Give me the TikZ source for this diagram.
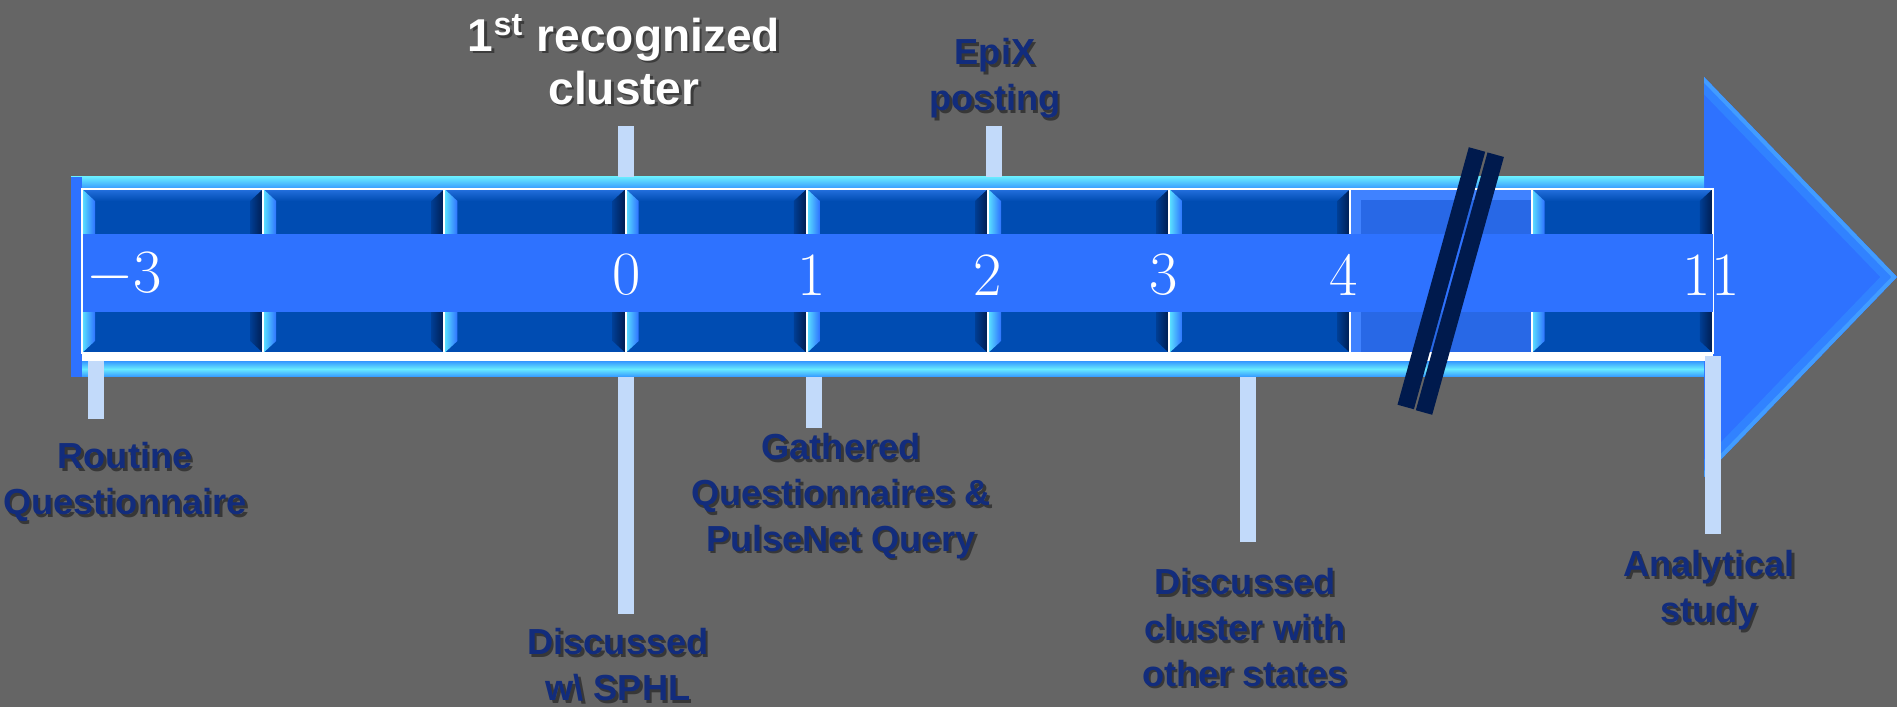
\documentclass[tikz,border=0pt]{standalone}
\usepackage{fontspec}
\newfontfamily\notefont{Liberation Sans}
\usetikzlibrary{calc}

\definecolor{slidegray}{RGB}{101,101,101}
\definecolor{bandblue}{RGB}{46,114,255}
\definecolor{cellblue}{RGB}{0,76,178}
\definecolor{celltop}{RGB}{36,112,222}
\definecolor{celldark}{RGB}{0,28,78}
\definecolor{cellcyan}{RGB}{92,228,255}
\definecolor{rimcyan}{RGB}{104,234,255}
\definecolor{rimblue}{RGB}{52,150,255}
\definecolor{gapblue}{RGB}{40,104,230}
\definecolor{gaprim}{RGB}{64,130,255}
\definecolor{tickblue}{RGB}{194,218,250}
\definecolor{slashnavy}{RGB}{0,26,77}
\definecolor{notenavy}{RGB}{18,44,124}

% label with a soft drop shadow behind it
\newcommand\timenote[5][note]{%
  \node[#1shade] at (#3+2.5,#4+2.5) {#5};
  \node[#1] (#2) at (#3,#4) {#5};}

\begin{document}
\begin{tikzpicture}[x=0.01cm, y=-0.01cm,
  note/.style={anchor=north, align=center, inner sep=0pt, text=notenavy,
    font=\notefont\bfseries\fontsize{10.3}{13}\selectfont},
  noteshade/.style={note, text=black, opacity=0.45},
  title/.style={note, text=white, font=\notefont\bfseries\fontsize{13.1}{15.1}\selectfont},
  titleshade/.style={title, text=black, opacity=0.4},
  num/.style={inner sep=0pt, text=white, font=\fontsize{17.5}{17.5}\selectfont},
  tick/.style={fill=tickblue},
  slash/.style={draw=slashnavy, line width=0.17cm}
]
% slide background
\fill[slidegray] (0,0) rectangle (1897,707);
\useasboundingbox (0,0) rectangle (1897,707);

% arrow head
\fill[bandblue] (1704,77) -- (1897,277) -- (1704,477) -- cycle;
\begin{scope}
  \clip (1704,77) -- (1897,277) -- (1704,477) -- cycle;
  \draw[line width=0.24cm, rimblue!45!bandblue] (1704,77) -- (1897,277) -- (1704,477);
  \draw[line width=0.08cm, rimcyan!35!bandblue] (1704,77) -- (1897,277) -- (1704,477);
\end{scope}

% shaft rims
\shade[top color=rimcyan, bottom color=rimblue] (71,177) rectangle (1704,189);
\shade[top color=rimblue, bottom color=rimblue, middle color=rimcyan] (71,361) rectangle (1704,377);
\fill[bandblue] (71,177) rectangle (82,377);

% day cells
\foreach \i in {0,...,8} {
  \pgfmathsetmacro\xa{82+181.2*\i}
  \pgfmathsetmacro\xb{\xa+181.2}
  \ifnum\i=7
    \fill[gaprim] (\xa,189) rectangle (\xb,353);
    \fill[gapblue] (\xa+11,200) rectangle (\xb,353);
  \else
    \fill[cellblue] (\xa,189) rectangle (\xb,353);
    \shade[top color=celltop, bottom color=cellblue] (\xa,189) rectangle (\xb,201);
    \shade[left color=cellblue!70!celldark, right color=celldark]
      (\xb-13,201) -- (\xb,189) -- (\xb,353) -- (\xb-13,341) -- cycle;
    \shade[left color=cellcyan, right color=bandblue]
      (\xa,189) -- (\xa+13,201) -- (\xa+13,341) -- (\xa,353) -- cycle;
  \fi
  \draw[white, line width=0.02cm] (\xa,189) rectangle (\xb,353);
}
\fill[white] (82,353) rectangle (1713,361);

% number band
\fill[bandblue] (83,234) rectangle (1713,312);

% break in the time axis
\draw[slash] (1477,149.5) -- (1405.7,407);
\draw[slash] (1495.7,154.7) -- (1424,412.5);

% day numbers
\node[num] (dm3) at (124,275) {$-$3};
\node[num] (d0) at (627,275) {0};
\node[num] (d1) at (812,275) {1};
\node[num] (d2) at (988,275) {2};
\node[num] (d3) at (1164,275) {3};
\node[num] (d4) at (1344,275) {4};
\node[num] (d11) at (1711,275) {11};

% ticks
\fill[tick] (618,126) rectangle (634,177);
\fill[tick] (986,126) rectangle (1002,177);
\fill[tick] (88,361) rectangle (104,419);
\fill[tick] (618,377) rectangle (634,614);
\fill[tick] (806,377) rectangle (822,428);
\fill[tick] (1240,377) rectangle (1256,542);
\fill[tick] (1705,356) rectangle (1721,534);

% events
\timenote[title]{first}{624}{14}{1\textsuperscript{st} recognized\\cluster}
\timenote{epix}{995}{38}{EpiX\\posting}
\timenote{routine}{125}{442}{Routine\\Questionnaire}
\timenote{sphl}{618}{628}{Discussed\\w\textbackslash{} SPHL}
\timenote{gather}{841}{433}{Gathered\\Questionnaires \&\\PulseNet Query}
\timenote{states}{1245}{568}{Discussed\\cluster with\\other states}
\timenote{study}{1709}{550}{Analytical\\study}
\end{tikzpicture}
\end{document}
